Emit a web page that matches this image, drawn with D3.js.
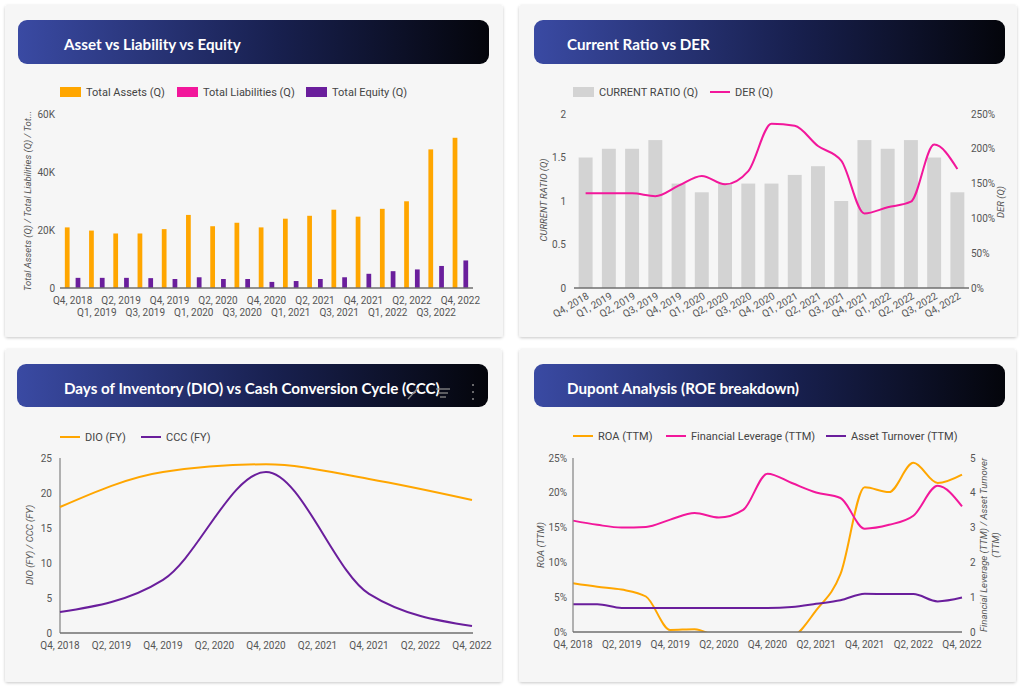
<!DOCTYPE html>
<html><head><meta charset="utf-8">
<script src="https://cdn.jsdelivr.net/npm/d3@7"></script>
<style>
html,body{margin:0;padding:0;background:#fff;}
svg{display:block;font-family:Roboto, "Noto Sans", sans-serif;}
</style></head><body>
<svg id="c" width="1024" height="689"></svg>
<script>
// ---------- DATA ----------
const quarters = ["Q4, 2018","Q1, 2019","Q2, 2019","Q3, 2019","Q4, 2019","Q1, 2020","Q2, 2020","Q3, 2020","Q4, 2020","Q1, 2021","Q2, 2021","Q3, 2021","Q4, 2021","Q1, 2022","Q2, 2022","Q3, 2022","Q4, 2022"];
const totalAssets = [20900,19800,18800,18800,20300,25200,21300,22500,20900,23900,24900,27000,24600,27300,29900,47800,51800];
const totalLiabilities = [0,0,0,0,0,0,0,0,0,0,0,0,0,0,0,0,0];
const totalEquity = [3500,3500,3500,3400,3100,3700,3100,3100,2100,2400,3100,3700,4900,5800,6400,7600,9500];
const assetTicks = [0,20000,40000,60000];

const currentRatio = [1.5,1.6,1.6,1.7,1.2,1.1,1.2,1.2,1.2,1.3,1.4,1.0,1.7,1.6,1.7,1.5,1.1];
const der = [1.36,1.36,1.36,1.32,1.47,1.61,1.49,1.68,2.36,2.33,2.04,1.83,1.07,1.16,1.24,2.06,1.71];
const crTicks = [0,0.5,1,1.5,2];
const derTicks = [0,0.5,1,1.5,2,2.5];

const fyPeriods = ["Q4, 2018","Q4, 2019","Q4, 2020","Q4, 2021","Q4, 2022"];
const dio = [18.0,23.0,24.1,22.0,19.0];
const ccc = [3.0,7.6,23.0,5.6,1.0];
const dioTicks = [0,5,10,15,20,25];
const halfYearLabels = ["Q4, 2018","Q2, 2019","Q4, 2019","Q2, 2020","Q4, 2020","Q2, 2021","Q4, 2021","Q2, 2022","Q4, 2022"];

const roa = [7.0,6.5,6.1,5.1,0.3,0.4,-0.8,-1.5,-1.5,-0.8,3.1,8.3,20.8,20.1,24.3,21.4,22.6];
const finLeverage = [3.2,3.08,3.0,3.02,3.23,3.42,3.29,3.51,4.55,4.28,4.01,3.85,2.97,3.08,3.34,4.2,3.61];
const assetTurnover = [0.8,0.8,0.69,0.69,0.69,0.69,0.69,0.69,0.69,0.72,0.81,0.91,1.1,1.09,1.09,0.88,0.99];
const roaTicks = [0,5,10,15,20,25];
const ratioTicks = [0,1,2,3,4,5];

// ---------- STYLE ----------
const C = {orange:"#ffa600", pink:"#f2179b", purple:"#6a1e9c", gray:"#d3d3d3", tick:"#555", axis:"#6f6f6f"};

const svg = d3.select("#c");
const defs = svg.append("defs");
const grad = defs.append("linearGradient").attr("id","hdr").attr("x1","0%").attr("x2","100%");
grad.append("stop").attr("offset","0%").attr("stop-color","#3a4aa3");
grad.append("stop").attr("offset","55%").attr("stop-color","#18204f");
grad.append("stop").attr("offset","100%").attr("stop-color","#04050b");
const filt = defs.append("filter").attr("id","sh").attr("x","-5%").attr("y","-5%").attr("width","110%").attr("height","115%");
filt.append("feDropShadow").attr("dx",0).attr("dy",1).attr("stdDeviation",1.4).attr("flood-color","#000").attr("flood-opacity",0.22);

function card(x,y,w,h,hx,hy,hw,hh,title,tx){
  svg.append("rect").attr("x",x).attr("y",y).attr("width",w).attr("height",h).attr("rx",3)
     .attr("fill","#f6f6f6").attr("filter","url(#sh)");
  svg.append("rect").attr("x",hx).attr("y",hy).attr("width",hw).attr("height",hh).attr("rx",9)
     .attr("fill","url(#hdr)");
  svg.append("text").attr("x",tx).attr("y",hy+29.5).attr("fill","#fff")
     .attr("font-family","Lato, 'Open Sans', sans-serif").attr("font-weight",700).attr("font-size",15.2)
     .text(title);
}
function legendRect(x,y,color,label){
  svg.append("rect").attr("x",x).attr("y",y-5).attr("width",21).attr("height",10).attr("fill",color);
  svg.append("text").attr("x",x+26).attr("y",y+4).attr("font-size",11).attr("fill","#444").text(label);
}
function legendLine(x,y,color,label){
  svg.append("line").attr("x1",x).attr("x2",x+20).attr("y1",y).attr("y2",y).attr("stroke",color).attr("stroke-width",2);
  svg.append("text").attr("x",x+25).attr("y",y+4).attr("font-size",11).attr("fill","#444").text(label);
}
function tickText(x,y,anchor,label){
  svg.append("text").attr("x",x).attr("y",y).attr("dy","0.35em").attr("text-anchor",anchor)
     .attr("font-size",10).attr("fill",C.tick).text(label);
}
function vTitle(x,y,label,size){
  svg.append("text").attr("transform",`translate(${x},${y}) rotate(-90)`).attr("text-anchor","middle")
     .attr("font-size",size||9.5).attr("font-style","italic").attr("fill","#555").text(label);
}

// ---------- CARDS ----------
card(5,5,498,332, 18,20,471,44, "Asset vs Liability vs Equity", 64);
card(519,5,498,332, 534,20,471,44, "Current Ratio vs DER", 567);
card(5,349,497,333, 17,364,471,43, "Days of Inventory (DIO) vs Cash Conversion Cycle (CCC)", 64);
card(519,349,497,333, 534,364,471,43, "Dupont Analysis (ROE breakdown)", 567);

// header overlay icons (chart 3)
const ic = svg.append("g").attr("stroke","#8a8a8a").attr("stroke-width",1.3).attr("fill","none");
ic.append("line").attr("x1",408).attr("y1",399).attr("x2",418).attr("y2",388);
ic.append("line").attr("x1",436).attr("x2",450).attr("y1",389).attr("y2",389);
ic.append("line").attr("x1",438).attr("x2",448).attr("y1",393).attr("y2",393);
ic.append("line").attr("x1",440).attr("x2",446).attr("y1",397).attr("y2",397);
[385,392,399].forEach(cy=>svg.append("circle").attr("cx",473).attr("cy",cy).attr("r",1).attr("fill","#8a8a8a"));

// ---------- CHART 1 ----------
(function(){
  const series = [
    {name:"Total Assets (Q)", values: totalAssets, color:C.orange},
    {name:"Total Liabilities (Q)", values: totalLiabilities, color:C.pink},
    {name:"Total Equity (Q)", values: totalEquity, color:C.purple}];
  legendRect(60,92,C.orange,series[0].name);
  legendRect(177,92,C.pink,series[1].name);
  legendRect(306,92,C.purple,series[2].name);
  const x0 = d3.scaleBand().domain(quarters).range([60,473]).paddingInner(0.36).paddingOuter(0.2);
  const x1 = d3.scaleBand().domain(series.map(s=>s.name)).range([0,x0.bandwidth()]).paddingInner(0.12);
  const y = d3.scaleLinear().domain([0,60000]).range([288,114]);
  assetTicks.forEach(t=>tickText(55,y(t),"end", t===0?"0":(t/1000)+"K"));
  series.forEach(s=>{
    svg.append("g").selectAll("rect").data(s.values).join("rect")
      .attr("x",(d,i)=>x0(quarters[i])+x1(s.name)).attr("width",x1.bandwidth())
      .attr("y",d=>y(d)).attr("height",d=>y(0)-y(d)).attr("fill",s.color);
  });
  svg.append("line").attr("x1",60).attr("x2",473).attr("y1",y(0)).attr("y2",y(0)).attr("stroke",C.axis).attr("stroke-width",1.3);
  quarters.forEach((q,i)=>{
    svg.append("text").attr("x",x0(q)+x0.bandwidth()/2).attr("y", i%2===0?304:316)
      .attr("text-anchor","middle").attr("font-size",10).attr("fill",C.tick).text(q);
  });
  vTitle(31,201,"Total Assets (Q) / Total Liabilities (Q) / Tot...",9.5);
})();

// ---------- CHART 2 ----------
(function(){
  legendRect(573,92,C.gray,"CURRENT RATIO (Q)");
  legendLine(710,92,C.pink,"DER (Q)");
  const x = d3.scaleBand().domain(quarters).range([574,969]).paddingInner(0.4).paddingOuter(0.2);
  const yL = d3.scaleLinear().domain([0,2]).range([288,114]);
  const yR = d3.scaleLinear().domain([0,2.5]).range([288,114]);
  crTicks.forEach(t=>tickText(566,yL(t),"end", String(t)));
  derTicks.forEach(t=>tickText(971,yR(t),"start", Math.round(t*100)+"%"));
  svg.append("g").selectAll("rect").data(currentRatio).join("rect")
    .attr("x",(d,i)=>x(quarters[i])).attr("width",x.bandwidth())
    .attr("y",d=>yL(d)).attr("height",d=>yL(0)-yL(d)).attr("fill",C.gray);
  svg.append("line").attr("x1",574).attr("x2",969).attr("y1",288).attr("y2",288).attr("stroke",C.axis).attr("stroke-width",1.3);
  const line = d3.line().x((d,i)=>x(quarters[i])+x.bandwidth()/2).y(d=>yR(d)).curve(d3.curveMonotoneX);
  svg.append("path").datum(der).attr("d",line).attr("fill","none").attr("stroke",C.pink).attr("stroke-width",2);
  quarters.forEach(q=>{
    svg.append("text").attr("transform",`translate(${x(q)+x.bandwidth()/2+4},${298}) rotate(-30)`)
      .attr("text-anchor","end").attr("font-size",10).attr("fill",C.tick).text(q);
  });
  vTitle(547,200,"CURRENT RATIO (Q)",9.5);
  vTitle(1004,202,"DER (Q)",9.5);
})();

// ---------- CHART 3 ----------
(function(){
  legendLine(60,437,C.orange,"DIO (FY)");
  legendLine(141,437,C.purple,"CCC (FY)");
  const x = d3.scalePoint().domain(quarters).range([60,472]);
  const y = d3.scaleLinear().domain([0,25]).range([633,458]);
  dioTicks.forEach(t=>tickText(52,y(t),"end",String(t)));
  svg.append("line").attr("x1",60).attr("x2",60).attr("y1",458).attr("y2",633).attr("stroke","#8a8a8a").attr("stroke-width",1.3);
  svg.append("line").attr("x1",60).attr("x2",473).attr("y1",633).attr("y2",633).attr("stroke",C.axis).attr("stroke-width",1.3);
  const line = d3.line().x((d,i)=>x(fyPeriods[i])).y(d=>y(d)).curve(d3.curveMonotoneX);
  svg.append("path").datum(dio).attr("d",line).attr("fill","none").attr("stroke",C.orange).attr("stroke-width",2);
  svg.append("path").datum(ccc).attr("d",line).attr("fill","none").attr("stroke",C.purple).attr("stroke-width",2);
  halfYearLabels.forEach(q=>{
    svg.append("text").attr("x",x(q)).attr("y",648.5).attr("text-anchor","middle").attr("font-size",10).attr("fill",C.tick).text(q);
  });
  vTitle(33,545,"DIO (FY) / CCC (FY)",9.5);
})();

// ---------- CHART 4 ----------
(function(){
  legendLine(573,436,C.orange,"ROA (TTM)");
  legendLine(666,436,C.pink,"Financial Leverage (TTM)");
  legendLine(826,436,C.purple,"Asset Turnover (TTM)");
  const x = d3.scalePoint().domain(quarters).range([573,962]);
  const yL = d3.scaleLinear().domain([0,25]).range([632,458]);
  const yR = d3.scaleLinear().domain([0,5]).range([632,458]);
  roaTicks.forEach(t=>tickText(567,yL(t),"end",t+"%"));
  ratioTicks.forEach(t=>tickText(970,yR(t),"start",String(t)));
  defs.append("clipPath").attr("id","clip4").append("rect").attr("x",560).attr("y",440).attr("width",420).attr("height",192);
  const g = svg.append("g").attr("clip-path","url(#clip4)");
  const lineL = d3.line().x((d,i)=>x(quarters[i])).y(d=>yL(d)).curve(d3.curveMonotoneX);
  const lineR = d3.line().x((d,i)=>x(quarters[i])).y(d=>yR(d)).curve(d3.curveMonotoneX);
  g.append("path").datum(roa).attr("d",lineL).attr("fill","none").attr("stroke",C.orange).attr("stroke-width",2);
  g.append("path").datum(finLeverage).attr("d",lineR).attr("fill","none").attr("stroke",C.pink).attr("stroke-width",2);
  g.append("path").datum(assetTurnover).attr("d",lineR).attr("fill","none").attr("stroke",C.purple).attr("stroke-width",2);
  svg.append("line").attr("x1",573).attr("x2",573).attr("y1",458).attr("y2",632).attr("stroke","#8a8a8a").attr("stroke-width",1.3);
  svg.append("line").attr("x1",573).attr("x2",962).attr("y1",632).attr("y2",632).attr("stroke",C.axis).attr("stroke-width",1.3);
  halfYearLabels.forEach(q=>{
    svg.append("text").attr("x",x(q)).attr("y",648).attr("text-anchor","middle").attr("font-size",10).attr("fill",C.tick).text(q);
  });
  vTitle(544,545,"ROA (TTM)",9.5);
  vTitle(987,545,"Financial Leverage (TTM) / Asset Turnover",9.5);
  vTitle(999,545,"(TTM)",9.5);
})();
</script>
</body></html>
